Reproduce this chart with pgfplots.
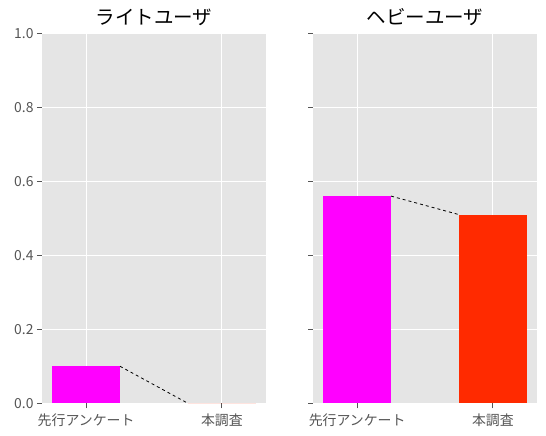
\documentclass[border=0pt]{standalone}
\usepackage{fontspec}
\setmainfont{Noto Sans CJK JP}
\usepackage{pgfplots}
\pgfplotsset{compat=1.18}
\definecolor{bg}{HTML}{E5E5E5}
\definecolor{tickgray}{HTML}{555555}
\definecolor{barmag}{HTML}{FF00FF}
\definecolor{barred}{HTML}{FF2A00}
\pgfplotsset{
  ggstyle/.style={
    scale only axis,
    width=224pt, height=370pt,
    xmin=-0.325, xmax=1.325,
    ymin=0, ymax=1,
    xtick={0,1},
    xticklabels={先行アンケート,本調査},
    ytick={0,0.2,0.4,0.6,0.8,1.0},
    yticklabel style={/pgf/number format/fixed,/pgf/number format/fixed zerofill,/pgf/number format/precision=1},
    xticklabel style={yshift=-1.5pt},
    /pgf/number format/assume math mode=true,
    axis background/.style={fill=bg},
    axis line style={draw=none},
    grid=major,
    major grid style={white, line width=1.1pt},
    tick align=outside,
    xtick pos=bottom, ytick pos=left,
    major tick length=5pt,
    tick style={tickgray, line width=1pt},
    ticklabel style={font=\fontsize{13.9}{16}\selectfont, text=tickgray},
    title style={font=\fontsize{19.5}{22}\selectfont, yshift=-2pt},
  },
  bar/.style={ybar, bar width=0.5, bar shift=0pt, draw=none, fill=#1},
}
\begin{document}
\begin{tikzpicture}[x=1pt,y=1pt]
\useasboundingbox (0,0) rectangle (546,436);
\begin{axis}[ggstyle, at={(42pt,32.7pt)}, anchor=south west, title={ライトユーザ}]
\addplot[bar=barmag] coordinates {(0,0.1)};
\addplot[bar=barred] coordinates {(1,0)};
\addplot[black, dashed, line width=0.8pt] coordinates {(0.25,0.1)(0.75,0)};
\end{axis}
\begin{axis}[ggstyle, at={(313pt,32.7pt)}, anchor=south west, title={ヘビーユーザ}, yticklabels={}]
\addplot[bar=barmag] coordinates {(0,0.56)};
\addplot[bar=barred] coordinates {(1,0.51)};
\addplot[black, dashed, line width=0.8pt] coordinates {(0.25,0.56)(0.75,0.51)};
\end{axis}
\end{tikzpicture}
\end{document}
